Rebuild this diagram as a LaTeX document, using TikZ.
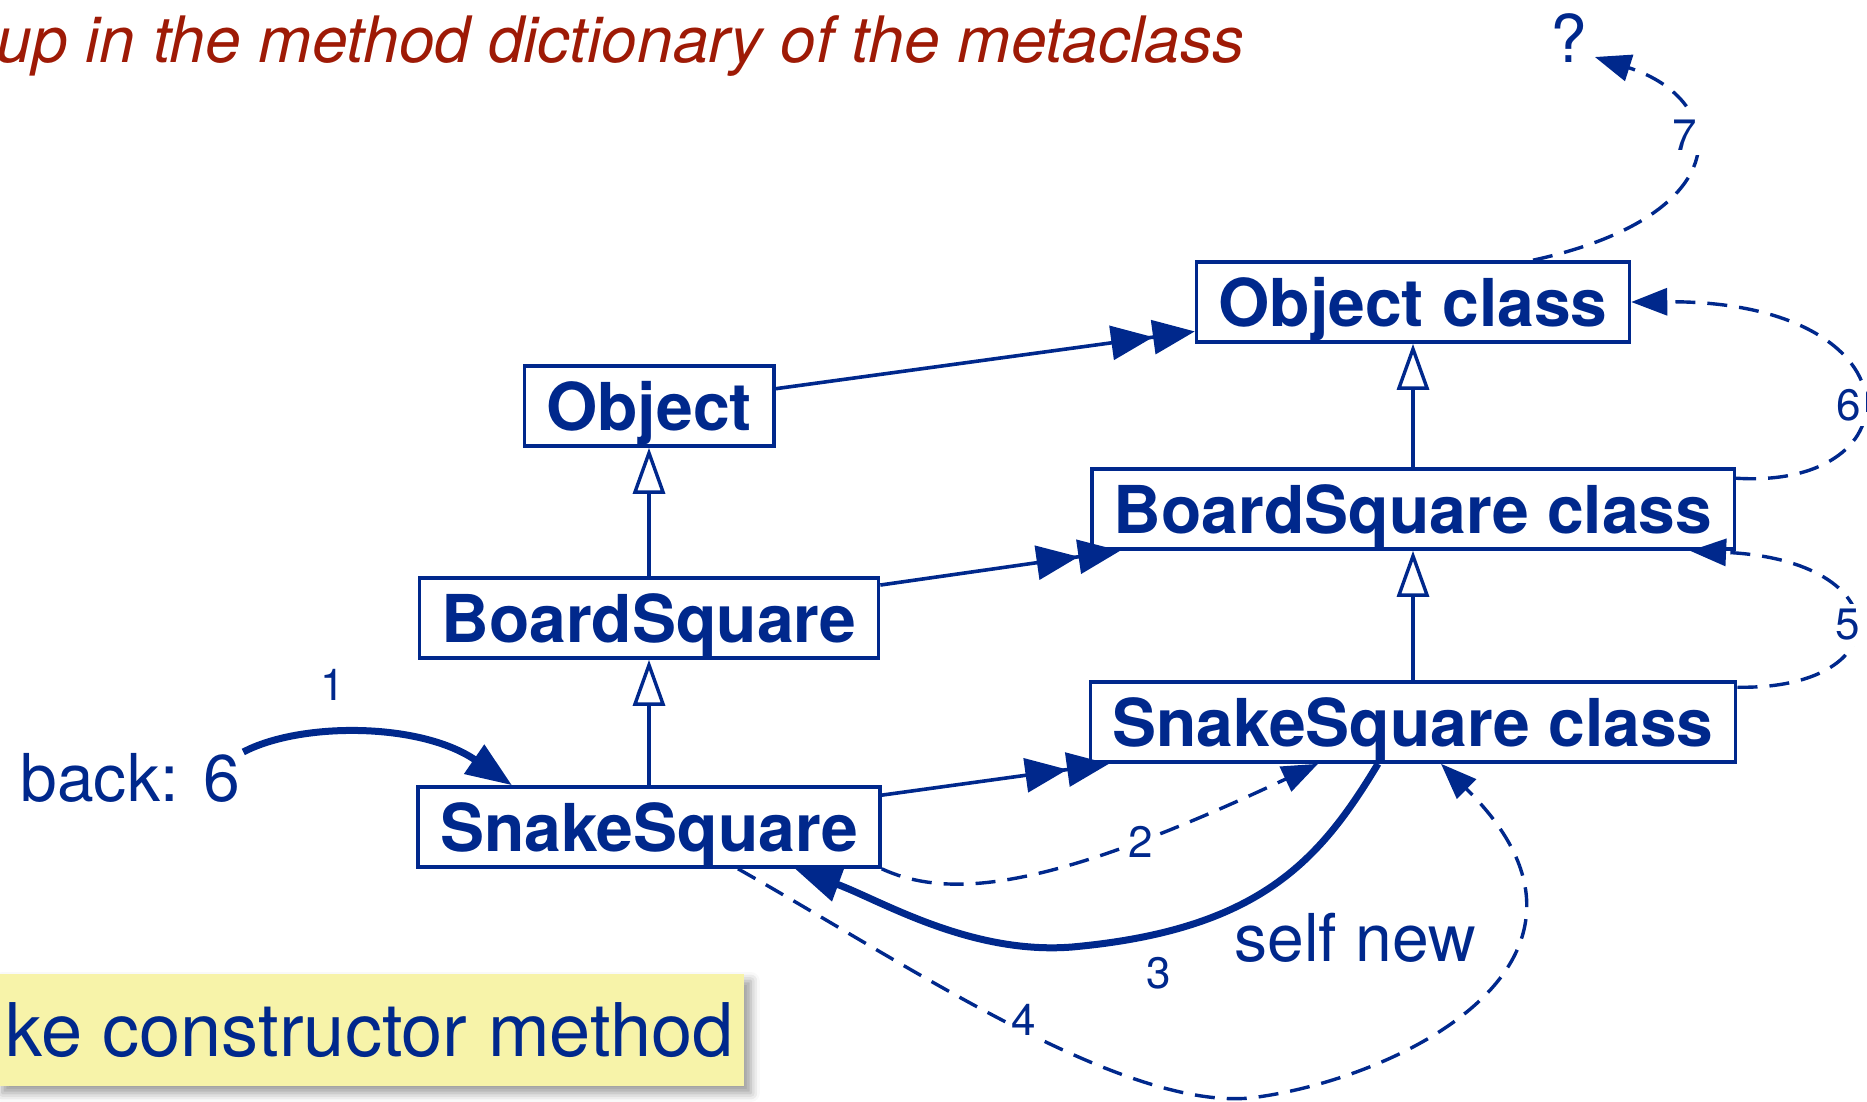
\documentclass[tikz,border=0pt]{standalone}
\usepackage{fontspec}
\setmainfont{TeX Gyre Heros}
\usetikzlibrary{arrows.meta,shadows.blur}
\definecolor{slideblue}{HTML}{00288C}
\definecolor{slidered}{HTML}{9E1A06}
\definecolor{notecolor}{HTML}{F7F3A9}

\begin{document}
\begin{tikzpicture}[x=1pt,y=-1pt,
    cls/.style={draw=slideblue,line width=3.6pt,text=slideblue,font=\fontsize{66}{70}\selectfont\bfseries,inner xsep=22pt,inner ysep=0pt,text height=64pt,text depth=16pt},
    lbl/.style={text=slideblue,font=\fontsize{66}{70}\selectfont},
    num/.style={text=slideblue,font=\fontsize{44}{48}\selectfont,fill=white,inner sep=5pt},
    inherit/.style={draw=slideblue,line width=3.4pt,-{Triangle[open,length=46pt,width=32pt]}},
    instof/.style={draw=slideblue,line width=3.6pt,-{Triangle[length=42pt,width=34pt]Triangle[length=42pt,width=34pt]}},
    lookup/.style={draw=slideblue,line width=3.4pt,dash pattern=on 20pt off 12pt,-{Triangle[length=36pt,width=27pt]}},
    send/.style={draw=slideblue,line width=7pt,-{Triangle[length=46pt,width=34pt]}}]
    % Define parameters
    \def\leftcol{649}
    \def\rightcol{1413}
    \useasboundingbox (0,0) rectangle (1867,1101);

% Title
    \node[anchor=base west,text=slidered,font=\fontsize{64}{68}\selectfont\itshape] (title) at (-7,62) {up in the method dictionary of the metaclass};

% Instances
    \node[cls] (object) at (\leftcol,406) {Object};
    \node[cls] (bdsq) at (\leftcol,618) {BoardSquare};
    \node[cls] (snake) at (\leftcol,827) {SnakeSquare};

% Metaclasses
    \node[cls] (objcls) at (\rightcol,302) {Object class};
    \node[cls] (bdcls) at (\rightcol,509) {BoardSquare class};
    \node[cls] (snakecls) at (\rightcol,722) {SnakeSquare class};

% Other texts
    \node[lbl] (q) at (1569,38) {?};
    \node[lbl,anchor=west] (back) at (17,778) {back: 6};
    \node[lbl] (selfnew) at (1355,938) {self new};
    \node[anchor=east,fill=notecolor,text=slideblue,font=\fontsize{74}{78}\selectfont,inner xsep=10pt,minimum height=112pt,
          blur shadow={shadow xshift=7pt,shadow yshift=-7pt,shadow blur radius=9pt}] (ctor) at (744,1030) {ke constructor method};

% Superclass links
    \draw[inherit] (bdsq.north) -- (object.south);
    \draw[inherit] (snake.north) -- (bdsq.south);
    \draw[inherit] (bdcls.north) -- (objcls.south);
    \draw[inherit] (snakecls.north) -- (bdcls.south);

% Class links
    \draw[instof] (object) -- (objcls);
    \draw[instof] (bdsq) -- (bdcls);
    \draw[instof] (snake) -- (snakecls);

% Message send
    \draw[send] ([yshift=26pt]back.east) .. controls (300,722) and (420,722) .. ([xshift=-137pt]snake.north);
    \draw[send] ([xshift=-35pt]snakecls.south) .. controls (1320,860) and (1260,930) .. (1072,947)
                .. controls (970,955) and (880,900) .. ([xshift=146pt]snake.south);

% Lookup
    \draw[lookup] (snake.south east) .. controls (950,900) and (1050,890) .. ([xshift=-95pt]snakecls.south);
    \draw[lookup] ([xshift=89pt]snake.south) .. controls (900,960) and (1120,1110) .. (1250,1098)
                .. controls (1400,1080) and (1640,960) .. ([xshift=28pt]snakecls.south);
    \draw[lookup] ([yshift=-7pt]snakecls.north east) .. controls (1900,690) and (1900,560) .. ([xshift=-46pt]bdcls.south east);
    \draw[lookup] ([yshift=-11pt]bdcls.north east) .. controls (1920,490) and (1920,300) .. (objcls.east);
    \draw[lookup] ([xshift=120pt]objcls.north) .. controls (1740,215) and (1730,100) .. ([shift={(4pt,-19pt)}]q.east);

% Step numbers
    \node[num] (n1) at (333,685) {1};
    \node[num] (n2) at (1141,842) {2};
    \node[num] (n3) at (1159,973) {3};
    \node[num] (n4) at (1024,1020) {4};
    \node[num] (n5) at (1848,625) {5};
    \node[num] (n6) at (1849,405) {6};
    \node[num] (n7) at (1685,135) {7};

\end{tikzpicture}
\end{document}
